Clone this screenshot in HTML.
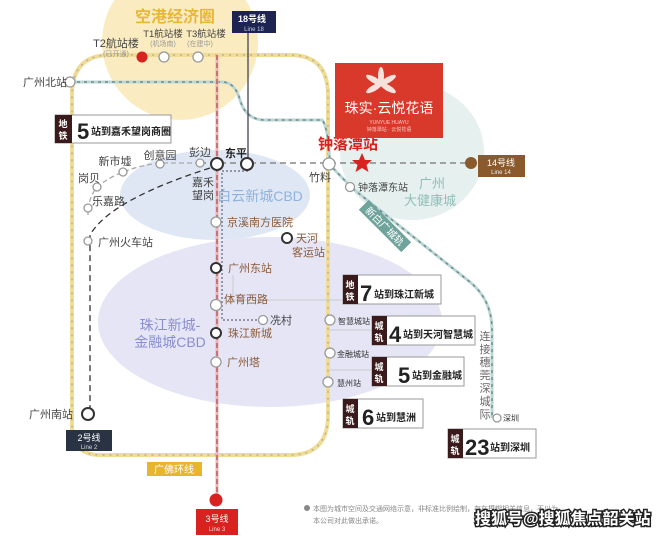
<!DOCTYPE html>
<html><head><meta charset="utf-8"><style>
html,body{margin:0;padding:0;background:#fff;}
svg{display:block;font-family:"Liberation Sans","Noto Sans CJK SC",sans-serif;}
.s{fill:#fff;stroke:#999;stroke-width:1.3}
.r{fill:#fff;stroke:#333;stroke-width:2}
.lb{font-size:11px;fill:#444}
.lbo{font-size:11px;fill:#8a5a3a}
</style></head><body>
<svg width="660" height="536" viewBox="0 0 660 536" xmlns="http://www.w3.org/2000/svg">
<rect width="660" height="536" fill="#fff"/>
<ellipse cx="270" cy="322" rx="172" ry="85" fill="#e5e5f5"/>
<ellipse cx="412" cy="152" rx="72" ry="68" fill="#e6f0ef"/>
<ellipse cx="215" cy="195" rx="95" ry="45" fill="#dfe7f5"/>
<circle cx="180" cy="42" r="78" fill="#faecc0"/>
<text x="175" y="22" font-size="16" fill="#e8b73a" text-anchor="middle" font-weight="bold">空港经济圈</text>
<text x="260" y="201" font-size="14" fill="#8fb3dd" text-anchor="middle">白云新城CBD</text>
<text x="170" y="330" font-size="14" fill="#8a8fd0" text-anchor="middle">珠江新城-</text>
<text x="170" y="347" font-size="14" fill="#8a8fd0" text-anchor="middle">金融城CBD</text>
<text x="432" y="188" font-size="13" fill="#8fc0b8" text-anchor="middle">广州</text>
<text x="430" y="205" font-size="13" fill="#8fc0b8" text-anchor="middle">大健康城</text>
<path d="M110 55 H290 Q328 55 328 95 V415 Q328 455 290 455 H100 Q72 455 72 425 V95 Q72 55 110 55" fill="none" stroke="#f0dc94" stroke-width="4"/>
<path d="M110 55 H290 Q328 55 328 95 V415 Q328 455 290 455 H100 Q72 455 72 425 V95 Q72 55 110 55" fill="none" stroke="#b9b39a" stroke-width="1.5" stroke-dasharray="2 5"/>
<path d="M70 82 H222 Q235 82 240 100 Q246 120 265 120 H322 Q328 125 330 165 L352 188 L470 282 Q492 300 492 330 V418" fill="none" stroke="#bcd6d6" stroke-width="3"/>
<path d="M70 82 H222 Q235 82 240 100 Q246 120 265 120 H322 Q328 125 330 165 L352 188 L470 282 Q492 300 492 330 V418" fill="none" stroke="#6d8f8d" stroke-width="1.5" stroke-dasharray="3 4"/>
<line x1="200" y1="163" x2="470" y2="163" stroke="#888" stroke-width="1.5" stroke-dasharray="6 4"/>
<line x1="217" y1="55" x2="217" y2="498" stroke="#e7b5b5" stroke-width="3"/>
<line x1="217" y1="55" x2="217" y2="498" stroke="#b04a4a" stroke-width="1.2" stroke-dasharray="5 3"/>
<line x1="248" y1="30" x2="248" y2="163" stroke="#445" stroke-width="1.3"/>
<path d="M248 163 V171 H222 V320 H262" fill="none" stroke="#667" stroke-width="1.2" stroke-dasharray="2 2"/>
<path d="M210 168 Q110 200 90 235 V414" fill="none" stroke="#333" stroke-width="1.3" stroke-dasharray="6 4"/>
<path d="M200 163 H160 Q120 168 97 187 Q88 198 88 215" fill="none" stroke="#aaa" stroke-width="1.3" stroke-dasharray="5 3"/>
<path d="M233 275 V300 H343" fill="none" stroke="#ccc" stroke-width="1"/>
<line x1="330" y1="330" x2="372" y2="330" stroke="#ccc"/>
<line x1="330" y1="370" x2="372" y2="370" stroke="#ccc"/>
<circle cx="142" cy="57" r="5.5" fill="#d8221f"/>
<circle cx="164" cy="57" r="5" class="s"/>
<circle cx="198" cy="57" r="5" class="s"/>
<circle cx="70" cy="82" r="5" class="s"/>
<circle cx="200" cy="163" r="4" class="s"/>
<circle cx="160" cy="164" r="4" class="s"/>
<circle cx="123" cy="172" r="4" class="s"/>
<circle cx="97" cy="187" r="4" class="s"/>
<circle cx="88" cy="208" r="4" class="s"/>
<circle cx="88" cy="241" r="4" class="s"/>
<circle cx="217" cy="164" r="6" class="r"/>
<circle cx="247" cy="164" r="6" class="r"/>
<circle cx="329" cy="164" r="6" class="s"/>
<circle cx="350" cy="187" r="4.5" class="s"/>
<circle cx="216" cy="222" r="5" class="s"/>
<circle cx="287" cy="238" r="5" class="r"/>
<circle cx="216" cy="268" r="5" class="r"/>
<circle cx="216" cy="305" r="5.5" class="s"/>
<circle cx="263" cy="320" r="4.5" class="s"/>
<circle cx="216" cy="333" r="5" class="r"/>
<circle cx="216" cy="362" r="5" class="s"/>
<circle cx="330" cy="320" r="5" class="s"/>
<circle cx="330" cy="353" r="5" class="s"/>
<circle cx="328" cy="382" r="5" class="s"/>
<circle cx="88" cy="414" r="6" class="r"/>
<circle cx="497" cy="418" r="4" class="s"/>
<circle cx="471" cy="163" r="6" fill="#8a5a2c"/>
<circle cx="216" cy="500" r="6.5" fill="#d8221f"/>
<polygon points="362,153 365,160 372,160 366.5,165 368.5,172 362,168 355.5,172 357.5,165 352,160 359,160" fill="#d8221f"/>
<text x="116" y="47" class="lb" text-anchor="middle">T2航站楼</text>
<text x="116" y="56" font-size="7" fill="#999" text-anchor="middle">(已开通)</text>
<text x="163" y="37" font-size="9.5" fill="#444" text-anchor="middle">T1航站楼</text>
<text x="163" y="46" font-size="7" fill="#999" text-anchor="middle">(机场南)</text>
<text x="206" y="37" font-size="9.5" fill="#444" text-anchor="middle">T3航站楼</text>
<text x="200" y="46" font-size="7" fill="#999" text-anchor="middle">(在建中)</text>
<text x="23" y="86" class="lb">广州北站</text>
<text x="200" y="156" class="lb" text-anchor="middle">彭边</text>
<text x="160" y="159" class="lb" text-anchor="middle">创意园</text>
<text x="115" y="165" class="lb" text-anchor="middle">新市墟</text>
<text x="78" y="182" class="lb">岗贝</text>
<text x="92" y="205" class="lb">乐嘉路</text>
<text x="98" y="246" class="lb">广州火车站</text>
<text x="236" y="157" font-size="11" font-weight="bold" fill="#222" text-anchor="middle">东平</text>
<text x="203" y="186" class="lb" text-anchor="middle">嘉禾</text>
<text x="203" y="199" class="lb" text-anchor="middle">望岗</text>
<text x="320" y="181" class="lb" text-anchor="middle">竹料</text>
<text x="358" y="191" font-size="10" fill="#444">钟落潭东站</text>
<text x="227" y="226" class="lbo">京溪南方医院</text>
<text x="296" y="242" class="lbo">天河</text>
<text x="292" y="256" class="lbo">客运站</text>
<text x="228" y="272" class="lbo">广州东站</text>
<text x="224" y="303" class="lbo">体育西路</text>
<text x="270" y="324" class="lb">冼村</text>
<text x="228" y="337" class="lbo">珠江新城</text>
<text x="227" y="366" class="lbo">广州塔</text>
<text x="338" y="324" font-size="8" fill="#333">智慧城站</text>
<text x="337" y="357" font-size="8" fill="#333">金融城站</text>
<text x="337" y="386" font-size="8" fill="#333">慧州站</text>
<text x="29" y="418" class="lb">广州南站</text>
<text x="503" y="421" font-size="8" fill="#333">深圳</text>
<text x="318" y="149" font-size="15" font-weight="bold" fill="#d8221f">钟落潭站</text>
<rect x="335" y="63" width="108" height="75" fill="#d9392b"/>
<g fill="#f6e2dc"><ellipse cx="381" cy="76" rx="3" ry="9"/><ellipse cx="381" cy="76" rx="3" ry="9" transform="rotate(60 381 84)"/><ellipse cx="381" cy="76" rx="3" ry="9" transform="rotate(-60 381 84)"/><ellipse cx="381" cy="76" rx="3" ry="9" transform="rotate(120 381 84)"/><ellipse cx="381" cy="76" rx="3" ry="9" transform="rotate(-120 381 84)"/></g>
<text x="389" y="113" font-size="14" fill="#fff" text-anchor="middle">珠实·云悦花语</text>
<text x="389" y="124" font-size="5" fill="#f5c9c0" text-anchor="middle">YUNYUE HUAYU</text>
<text x="389" y="131" font-size="5" fill="#f5c9c0" text-anchor="middle">钟落潭站 · 云悦花语</text>
<rect x="232" y="11" width="44" height="22" fill="#1d2452"/>
<text x="252" y="22" font-size="9" fill="#fff" text-anchor="middle" font-weight="bold">18号线</text>
<text x="254" y="31" font-size="6" fill="#ccd" text-anchor="middle">Line 18</text>
<rect x="478" y="155" width="47" height="22" fill="#8a5a2c"/>
<text x="501" y="166" font-size="9" fill="#fff" text-anchor="middle">14号线</text>
<text x="501" y="174" font-size="6" fill="#eee" text-anchor="middle">Line 14</text>
<rect x="66" y="430" width="46" height="21" fill="#2a3344"/>
<text x="89" y="441" font-size="9" fill="#fff" text-anchor="middle">2号线</text>
<text x="89" y="449" font-size="6" fill="#ddd" text-anchor="middle">Line 2</text>
<rect x="196" y="509" width="42" height="26" fill="#d8221f"/>
<text x="217" y="522" font-size="9" fill="#fff" text-anchor="middle">3号线</text>
<text x="217" y="531" font-size="6" fill="#fdd" text-anchor="middle">Line 3</text>
<rect x="147" y="462" width="55" height="14" fill="#e8b530"/>
<text x="174" y="473" font-size="10" fill="#fff" text-anchor="middle">广佛环线</text>
<g transform="translate(385 226) rotate(45)"><rect x="-30" y="-7" width="60" height="14" fill="#6fa39b"/><text x="0" y="4" font-size="10" fill="#fff" text-anchor="middle">新白广城轨</text></g>
<g font-size="11" fill="#666" text-anchor="middle"><text x="485" y="340">连</text><text x="485" y="353">接</text><text x="485" y="366">穗</text><text x="485" y="379">莞</text><text x="485" y="392">深</text><text x="485" y="405">城</text><text x="485" y="418">际</text></g>
<g>
<rect x="55" y="115" width="116" height="28" fill="#fff" stroke="#999"/><rect x="55" y="115" width="17" height="28" fill="#3a1a1a"/>
<text x="63" y="127" font-size="9" fill="#fff" text-anchor="middle" font-weight="bold">地</text><text x="63" y="139" font-size="9" fill="#fff" text-anchor="middle" font-weight="bold">铁</text>
<text x="77" y="139" font-size="22" font-weight="bold" fill="#222">5</text><text x="91" y="135" font-size="10" font-weight="bold" fill="#222">站到嘉禾望岗商圈</text>
</g>
<g>
<rect x="343" y="275" width="98" height="29" fill="#fff" stroke="#999"/><rect x="343" y="275" width="15" height="29" fill="#3a1a1a"/>
<text x="350" y="288" font-size="9" fill="#fff" text-anchor="middle" font-weight="bold">地</text><text x="350" y="300" font-size="9" fill="#fff" text-anchor="middle" font-weight="bold">铁</text>
<text x="360" y="301" font-size="22" font-weight="bold" fill="#222">7</text><text x="374" y="298" font-size="10" font-weight="bold" fill="#222">站到珠江新城</text>
</g>
<g>
<rect x="372" y="316" width="103" height="29" fill="#fff" stroke="#999"/><rect x="372" y="316" width="15" height="29" fill="#3a1a1a"/>
<text x="379" y="329" font-size="9" fill="#fff" text-anchor="middle" font-weight="bold">城</text><text x="379" y="341" font-size="9" fill="#fff" text-anchor="middle" font-weight="bold">轨</text>
<text x="389" y="342" font-size="22" font-weight="bold" fill="#222">4</text><text x="403" y="338" font-size="10" font-weight="bold" fill="#222">站到天河智慧城</text>
</g>
<g>
<rect x="372" y="357" width="92" height="29" fill="#fff" stroke="#999"/><rect x="372" y="357" width="15" height="29" fill="#3a1a1a"/>
<text x="379" y="370" font-size="9" fill="#fff" text-anchor="middle" font-weight="bold">城</text><text x="379" y="382" font-size="9" fill="#fff" text-anchor="middle" font-weight="bold">轨</text>
<text x="398" y="383" font-size="22" font-weight="bold" fill="#222">5</text><text x="412" y="379" font-size="10" font-weight="bold" fill="#222">站到金融城</text>
</g>
<g>
<rect x="343" y="399" width="80" height="29" fill="#fff" stroke="#999"/><rect x="343" y="399" width="15" height="29" fill="#3a1a1a"/>
<text x="350" y="412" font-size="9" fill="#fff" text-anchor="middle" font-weight="bold">城</text><text x="350" y="424" font-size="9" fill="#fff" text-anchor="middle" font-weight="bold">轨</text>
<text x="362" y="425" font-size="22" font-weight="bold" fill="#222">6</text><text x="376" y="421" font-size="10" font-weight="bold" fill="#222">站到慧洲</text>
</g>
<g>
<rect x="448" y="429" width="88" height="29" fill="#fff" stroke="#999"/><rect x="448" y="429" width="15" height="29" fill="#3a1a1a"/>
<text x="455" y="442" font-size="9" fill="#fff" text-anchor="middle" font-weight="bold">城</text><text x="455" y="454" font-size="9" fill="#fff" text-anchor="middle" font-weight="bold">轨</text>
<text x="465" y="455" font-size="22" font-weight="bold" fill="#222">23</text><text x="490" y="451" font-size="10" font-weight="bold" fill="#222">站到深圳</text>
</g>
<circle cx="307" cy="508" r="3" fill="#888"/>
<text x="313" y="511" font-size="7" fill="#888">本图为城市空间及交通网络示意，非标准比例绘制，存在模糊相关信息，不以为</text>
<text x="313" y="523" font-size="7" fill="#888">本公司对此做出承诺。</text>
<text x="475" y="524" font-size="16" font-weight="bold" fill="#fff" stroke="#222" stroke-width="3" paint-order="stroke">搜狐号@搜狐焦点韶关站</text>
</svg>
</body></html>
